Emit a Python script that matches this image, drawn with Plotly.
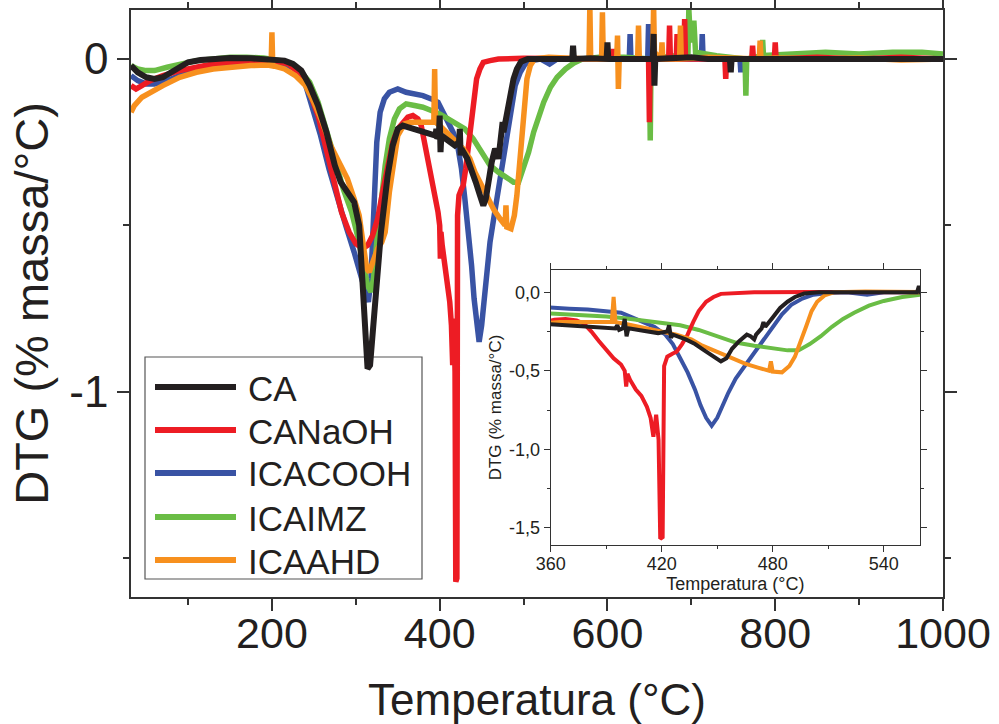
import plotly.graph_objects as go

# ---------------- data ----------------
series_names = ["CA", "CANaOH", "ICACOOH", "ICAIMZ", "ICAAHD"]
series_colors = ["#231f20", "#ed1c24", "#3953a4", "#6abd45", "#f7901e"]

T_CA = [32, 40, 50, 60, 70, 80, 90, 100, 115, 130, 150, 175, 200, 215, 225, 235, 245, 255, 265, 275,
        282, 290, 298, 304, 308, 311, 314, 317, 320, 324, 330, 338, 344, 350, 356, 362, 370, 380, 390,
        395, 396, 397, 399, 400, 401, 402, 410, 418, 423, 424, 425, 426, 433, 438, 443, 448, 452, 455,
        458, 462, 466, 468, 470, 471, 474, 475, 476, 480, 484, 488, 492, 497, 505, 530, 558, 559, 560,
        580, 599, 600, 601, 630, 654, 655, 656, 657, 700, 720, 746, 747, 748, 800, 850, 900, 950, 1000]
DTG_CA = [-0.02, -0.04, -0.055, -0.06, -0.055, -0.04, -0.02, -0.01, -0.003, 0.0, 0.003, 0.002, 0.0,
          -0.005, -0.015, -0.035, -0.08, -0.14, -0.22, -0.32, -0.37, -0.40, -0.43, -0.50, -0.65, -0.82,
          -0.93, -0.92, -0.82, -0.68, -0.52, -0.35, -0.26, -0.21, -0.20, -0.205, -0.21, -0.22, -0.225,
          -0.23, -0.21, -0.24, -0.23, -0.17, -0.28, -0.23, -0.245, -0.26, -0.25, -0.21, -0.29, -0.27,
          -0.30, -0.33, -0.37, -0.41, -0.44, -0.42, -0.36, -0.31, -0.27, -0.28, -0.30, -0.27, -0.23,
          -0.19, -0.22, -0.16, -0.10, -0.06, -0.03, -0.008, 0.0, 0.0, 0.0, 0.04, 0.0, 0.002, 0.0, 0.05,
          0.0, 0.0, 0.0, 0.075, -0.08, 0.0, 0.005, 0.0, 0.0, -0.04, 0.0, 0.0, 0.002, 0.0, 0.002, 0.0]

T_NAOH = [32, 38, 45, 55, 70, 90, 110, 130, 150, 175, 200, 220, 235, 245, 255, 265, 275, 283, 292, 300,
          308, 314, 320, 326, 332, 338, 344, 350, 356, 362, 368, 374, 378, 382, 386, 390, 394, 398, 400,
          400.8, 401.5, 403, 406, 409, 412, 414, 415.5, 417, 418.3, 419.2, 420.5, 421.3, 423, 426, 428,
          431, 434, 437, 440, 444, 448, 452, 460, 470, 500, 550, 580, 606, 607, 608, 649, 650, 651, 673,
          674, 675, 682, 683, 684, 691, 692, 693, 740, 741, 742, 772, 773, 774, 799, 800, 801, 850, 900,
          950, 1000]
DTG_NAOH = [-0.08, -0.09, -0.08, -0.065, -0.05, -0.035, -0.025, -0.015, -0.01, -0.005, -0.005, -0.015,
            -0.05, -0.10, -0.17, -0.27, -0.38, -0.46, -0.52, -0.555, -0.57, -0.56, -0.53, -0.48, -0.40,
            -0.32, -0.25, -0.21, -0.19, -0.175, -0.17, -0.18, -0.20, -0.25, -0.31, -0.37, -0.42, -0.46,
            -0.50, -0.60, -0.52, -0.56, -0.62, -0.66, -0.73, -0.80, -0.92, -0.78, -0.94, -1.57, -1.56,
            -0.47, -0.41, -0.39, -0.38, -0.33, -0.27, -0.19, -0.12, -0.06, -0.03, -0.01, -0.005, 0.0,
            0.002, 0.0, 0.0, 0.0, 0.03, 0.0, 0.0, -0.19, 0.0, 0.0, 0.10, 0.0, 0.0, 0.075, 0.0, 0.0, 0.12,
            0.0, 0.0, -0.06, 0.0, 0.0, 0.04, 0.0, 0.0, 0.05, 0.0, 0.005, 0.0, 0.005, 0.0]

T_COOH = [32, 40, 50, 60, 75, 90, 110, 130, 150, 175, 200, 215, 228, 238, 248, 258, 268, 278, 288, 298,
          306, 312, 315, 318, 320, 322, 325, 329, 334, 340, 350, 360, 370, 380, 390, 398, 404, 410, 416,
          422, 426, 430, 434, 438, 441, 444, 447, 450, 453, 456, 460, 465, 470, 475, 480, 485, 490, 496,
          502, 510, 520, 531, 540, 560, 600, 626, 627, 628, 648, 649, 650, 700, 712, 713, 714, 758, 759,
          760, 800, 850, 900, 950, 1000]
DTG_COOH = [-0.05, -0.065, -0.075, -0.075, -0.065, -0.05, -0.035, -0.025, -0.018, -0.012, -0.01, -0.015,
            -0.03, -0.06, -0.14, -0.23, -0.33, -0.42, -0.50, -0.58, -0.65, -0.71, -0.73, -0.66, -0.52,
            -0.38, -0.25, -0.16, -0.12, -0.10, -0.09, -0.10, -0.105, -0.11, -0.12, -0.13, -0.16, -0.19,
            -0.22, -0.27, -0.33, -0.42, -0.51, -0.62, -0.72, -0.80, -0.85, -0.80, -0.72, -0.64, -0.55,
            -0.47, -0.39, -0.30, -0.22, -0.14, -0.08, -0.04, -0.015, -0.005, 0.0, -0.015, 0.0, 0.0, 0.0,
            0.0, 0.075, 0.0, 0.0, 0.105, 0.0, 0.0, 0.0, 0.075, 0.0, 0.0, -0.04, 0.0, 0.0, 0.003, 0.0,
            0.003, 0.0]

T_IMZ = [32, 40, 50, 60, 75, 90, 110, 130, 150, 170, 190, 210, 225, 235, 245, 255, 265, 275, 285, 295,
         303, 309, 314, 318, 321, 325, 330, 335, 340, 346, 352, 360, 370, 380, 390, 400, 410, 420, 430,
         440, 447, 452, 460, 470, 480, 488, 494, 500, 506, 512, 518, 524, 532, 540, 550, 560, 570, 590,
         620, 650, 651, 652, 680, 696, 697, 699, 703, 705, 730, 764, 765, 766, 784, 785, 786, 820, 860,
         900, 940, 975, 1000]
DTG_IMZ = [-0.02, -0.03, -0.035, -0.035, -0.025, -0.015, -0.005, 0.0, 0.005, 0.005, 0.003, -0.005, -0.02,
           -0.04, -0.07, -0.13, -0.21, -0.30, -0.39, -0.46, -0.54, -0.62, -0.68, -0.70, -0.66, -0.55,
           -0.42, -0.32, -0.24, -0.18, -0.15, -0.135, -0.14, -0.145, -0.155, -0.165, -0.18, -0.195,
           -0.21, -0.24, -0.27, -0.29, -0.32, -0.34, -0.355, -0.37, -0.37, -0.33, -0.28, -0.22, -0.17,
           -0.13, -0.085, -0.055, -0.03, -0.012, 0.0, 0.005, 0.005, 0.0, -0.245, 0.0, 0.01, 0.02, 0.15,
           0.05, 0.115, 0.02, 0.01, 0.0, -0.11, 0.0, 0.01, 0.057, 0.01, 0.015, 0.02, 0.015, 0.02, 0.02,
           0.015]

T_AHD = [32, 36, 45, 55, 70, 90, 110, 130, 150, 175, 195, 199, 200, 201, 215, 228, 240, 250, 260, 270,
         280, 290, 298, 304, 309, 313, 316, 320, 326, 331, 335, 340, 344, 350, 358, 365, 375, 385, 393,
         394, 395, 400, 408, 418, 428, 436, 442, 450, 458, 465, 472, 478, 479, 480, 485, 489, 492, 495,
         498, 501, 504, 508, 513, 530, 560, 578, 579, 580, 593, 594, 595, 611, 612, 613, 614, 636, 637,
         638, 654, 655, 656, 664, 665, 666, 686, 687, 688, 720, 781, 782, 783, 800, 850, 900, 950, 1000]
DTG_AHD = [-0.16, -0.14, -0.115, -0.10, -0.08, -0.055, -0.04, -0.03, -0.025, -0.02, -0.018, -0.02, 0.08,
           -0.02, -0.03, -0.05, -0.08, -0.13, -0.19, -0.26, -0.31, -0.36, -0.42, -0.47, -0.56, -0.63,
           -0.64, -0.61, -0.57, -0.55, -0.52, -0.40, -0.32, -0.23, -0.195, -0.19, -0.19, -0.19, -0.19,
           -0.03, -0.19, -0.20, -0.22, -0.24, -0.27, -0.30, -0.34, -0.38, -0.42, -0.455, -0.48, -0.50,
           -0.44, -0.505, -0.51, -0.47, -0.41, -0.32, -0.22, -0.12, -0.06, -0.02, 0.0, 0.005, 0.0, 0.0,
           0.16, 0.0, 0.0, 0.14, 0.0, 0.0, 0.07, -0.09, 0.0, 0.0, 0.10, 0.0, 0.0, 0.16, 0.02, 0.0, 0.05,
           0.0, 0.0, 0.10, 0.0, 0.005, 0.0, 0.055, 0.0, 0.003, 0.0, 0.003, -0.003, 0.0]

main_xtick_vals = [200, 400, 600, 800, 1000]
main_xtick_text = ["200", "400", "600", "800", "1000"]
main_xminor_vals = [100, 300, 500, 700, 900]
main_ytick_vals = [0, -1]
main_ytick_text = ["0", "-1"]
main_yminor_vals = [-0.5, -1.5]

inset_xtick_vals = [360, 420, 480, 540]
inset_xtick_text = ["360", "420", "480", "540"]
inset_xminor_vals = [390, 450, 510]
inset_ytick_vals = [0, -0.5, -1.0, -1.5]
inset_ytick_text = ["0,0", "-0,5", "-1,0", "-1,5"]
inset_yminor_vals = [-0.25, -0.75, -1.25]

x_title = "Temperatura (°C)"
y_title = "DTG (% massa/°C)"

# ---------------- layout geometry ----------------
W, H = 999, 724
ML, MR, MT, MB = 131, 56, 10, 127
PW, PH = W - ML - MR, H - MT - MB


def px_x(x):
    return (x - ML) / PW


def px_y(y):
    return (H - MB - y) / PH


FONT = "Liberation Sans, Arial, Helvetica, sans-serif"
AX_COLOR = "#333333"

data = {
    "CA": (T_CA, DTG_CA),
    "CANaOH": (T_NAOH, DTG_NAOH),
    "ICACOOH": (T_COOH, DTG_COOH),
    "ICAIMZ": (T_IMZ, DTG_IMZ),
    "ICAAHD": (T_AHD, DTG_AHD),
}
color_of = dict(zip(series_names, series_colors))
draw_order = ["ICACOOH", "ICAIMZ", "CANaOH", "ICAAHD", "CA"]

fig = go.Figure()
for name in draw_order:
    tx, vy = data[name]
    fig.add_trace(go.Scatter(x=tx, y=vy, mode="lines", name=name, showlegend=False,
                             line=dict(color=color_of[name], width=6 if name == "CA" else 5.5),
                             xaxis="x", yaxis="y"))
for name in draw_order:
    tx, vy = data[name]
    fig.add_trace(go.Scatter(x=tx, y=vy, mode="lines", name=name, showlegend=False,
                             line=dict(color=color_of[name], width=4),
                             xaxis="x2", yaxis="y2"))

axis_common = dict(showgrid=False, zeroline=False, showline=True, mirror="ticks",
                   linecolor=AX_COLOR, ticks="outside", tickcolor=AX_COLOR)

fig.update_layout(
    width=W, height=H,
    margin=dict(l=ML, r=MR, t=MT, b=MB, autoexpand=False),
    paper_bgcolor="white", plot_bgcolor="white",
    font=dict(family=FONT, color="#231f20"),
    showlegend=False,
    xaxis=dict(domain=[0, 1], range=[32, 1000], tickmode="array", tickvals=main_xtick_vals,
               ticktext=main_xtick_text, ticklen=12, tickwidth=1.5, linewidth=1.5,
               tickfont=dict(size=43), ticklabelstandoff=-14,
               minor=dict(tickmode="array", tickvals=main_xminor_vals, ticklen=6, tickwidth=1.5,
                          ticks="outside", tickcolor=AX_COLOR),
               title=dict(text=x_title, font=dict(size=44), standoff=34),
               anchor="y", **axis_common),
    yaxis=dict(domain=[0, 1], range=[-1.616, 0.147], tickmode="array", tickvals=main_ytick_vals,
               ticktext=main_ytick_text, ticklen=12, tickwidth=1.5, linewidth=1.5,
               tickfont=dict(size=44),
               minor=dict(tickmode="array", tickvals=main_yminor_vals, ticklen=6, tickwidth=1.5,
                          ticks="outside", tickcolor=AX_COLOR),
               title=dict(text=y_title, font=dict(size=47), standoff=6),
               anchor="x", **axis_common),
    xaxis2=dict(domain=[px_x(550.7), px_x(920)], range=[360, 559.6], tickmode="array",
                tickvals=inset_xtick_vals, ticktext=inset_xtick_text, ticklen=6, tickwidth=1,
                linewidth=1, tickfont=dict(size=18), ticklabelstandoff=-4,
                minor=dict(tickmode="array", tickvals=inset_xminor_vals, ticklen=3, tickwidth=1,
                           ticks="outside", tickcolor=AX_COLOR),
                title=dict(text=x_title, font=dict(size=18), standoff=1),
                anchor="y2", **axis_common),
    yaxis2=dict(domain=[px_y(545), px_y(270)], range=[-1.61, 0.142], tickmode="array",
                tickvals=inset_ytick_vals, ticktext=inset_ytick_text, ticklen=6, tickwidth=1,
                linewidth=1, tickfont=dict(size=18),
                minor=dict(tickmode="array", tickvals=inset_yminor_vals, ticklen=3, tickwidth=1,
                           ticks="outside", tickcolor=AX_COLOR),
                title=dict(text=y_title, font=dict(size=17), standoff=3),
                anchor="x2", **axis_common),
)

# ---------------- manual legend (long line samples like the reference) ----------------
legend_box = dict(x0=145, x1=422, y0=357, y1=579)
legend_rows_y = [387, 430, 473, 517, 560]
fig.add_shape(type="rect", xref="paper", yref="paper", layer="below",
              x0=px_x(legend_box["x0"]), x1=px_x(legend_box["x1"]),
              y0=px_y(legend_box["y1"]), y1=px_y(legend_box["y0"]),
              line=dict(color="#555555", width=1.2), fillcolor="white")
for name, yc in zip(series_names, legend_rows_y):
    fig.add_shape(type="line", xref="paper", yref="paper",
                  x0=px_x(155), x1=px_x(236), y0=px_y(yc), y1=px_y(yc),
                  line=dict(color=color_of[name], width=6))
    fig.add_annotation(xref="paper", yref="paper", x=px_x(246), y=px_y(yc + 1),
                       xanchor="left", yanchor="middle", text=name, showarrow=False,
                       font=dict(size=35, family=FONT, color="#231f20"))

fig.write_html("out.html")
